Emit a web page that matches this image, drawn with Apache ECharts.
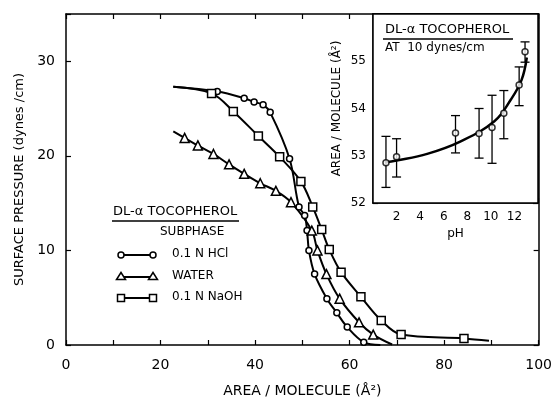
<!DOCTYPE html>
<html>
<head>
<meta charset="utf-8">
<script src="https://cdn.jsdelivr.net/npm/echarts@6/dist/echarts.min.js"></script>
<style>html,body{margin:0;padding:0;background:#fff}#c{width:555px;height:403px}</style>
</head>
<body>
<div id="c"></div>
<script>
// ---- main plot data (area/molecule Å², surface pressure dynes/cm)
const hclStart = [22.7, 27.3];
const hclEnd = [66.5, 0.0];
const hclPoints = [[32,26.8],[37.7,26.1],[39.8,25.7],[41.7,25.4],[43.2,24.6],[47.3,19.7],[49.3,14.6],[50.5,13.7],[51,12.1],[51.4,10.0],[52.6,7.5],[55.2,4.9],[57.3,3.4],[59.5,1.9],[63,0.3]];
const waterStart = [22.7, 22.6];
const waterEnd = [69, 0.05];
const waterPoints = [[25.1,21.9],[27.9,21.1],[31.2,20.2],[34.5,19.1],[37.7,18.1],[41.1,17.1],[44.4,16.3],[47.6,15.1],[52,12.1],[53.2,10.0],[55.1,7.5],[57.9,4.9],[62,2.4],[65,1.1]];
const naohStart = [22.7, 27.3];
const naohEnd = [89.5, 0.45];
const naohPoints = [[30.8,26.6],[35.4,24.7],[40.7,22.1],[45.2,19.9],[49.7,17.3],[52.2,14.6],[54.1,12.2],[55.7,10.1],[58.2,7.7],[62.4,5.1],[66.7,2.6],[70.9,1.1],[84.2,0.7]];
const mainXTicks = [0, 20, 40, 60, 80, 100];
const mainYTicks = [0, 10, 20, 30];

// ---- inset data (pH vs area/molecule at 10 dynes/cm)
const phVals = [1.1, 2, 7, 9, 10.1, 11.1, 12.4, 12.9];
const areaVals = [52.85, 52.98, 53.48, 53.47, 53.6, 53.9, 54.5, 55.2];
const errLow = [52.33, 52.55, 53.06, 52.95, 52.84, 53.36, 54.06, 54.98];
const errHigh = [53.41, 53.36, 53.85, 54.0, 54.28, 54.38, 54.88, 55.41];
const fitX = [1.0, 2, 4.6, 7.4, 10.3, 11.7, 12.6, 13.05];
const fitY = [52.86, 52.9, 53.04, 53.3, 53.73, 54.19, 54.6, 55.08];
const insetXTicks = [2, 4, 6, 8, 10, 12];
const insetYTicks = [52, 53, 54, 55];

const FONT = 'DejaVu Sans';
const chart = echarts.init(document.getElementById('c'), null, {renderer: 'canvas'});

function curveData(start, pts, end) {
  const d = [{value: start, symbol: 'none'}];
  pts.forEach(p => d.push({value: p}));
  d.push({value: end, symbol: 'none'});
  return d;
}
const markStyle = {color: '#fff', borderColor: '#000', borderWidth: 1.5};
function lineSeries(start, pts, end, sym, size) {
  return {
    type: 'line', xAxisIndex: 0, yAxisIndex: 0, smooth: 0.35,
    data: curveData(start, pts, end), symbol: sym, symbolSize: size,
    showAllSymbol: true,
    lineStyle: {color: '#000', width: 2}, itemStyle: markStyle,
    emphasis: {disabled: true}, z: 3
  };
}

const axText = {color: '#000', fontFamily: FONT};
function axisBase() {
  return {
    axisLine: {show: true, onZero: false, lineStyle: {color: '#000', width: 1.5}},
    axisTick: {show: true, inside: true, length: 5, lineStyle: {color: '#000', width: 1.2}},
    splitLine: {show: false}
  };
}

const option = {
  animation: false,
  backgroundColor: '#fff',
  grid: [
    {left: 66, right: 16, top: 14, bottom: 53},
    {left: 373, right: 17, top: 14, bottom: 200, show: true, backgroundColor: '#fff', borderColor: '#000', borderWidth: 1.5, z: 5}
  ],
  xAxis: [
    Object.assign(axisBase(), {type: 'value', gridIndex: 0, min: 0, max: 100, interval: 10,
      axisLabel: Object.assign({}, axText, {fontSize: 14, margin: 13,
        formatter: v => mainXTicks.includes(v) ? String(v) : ''}),
      name: 'AREA / MOLECULE (Å²)', nameLocation: 'middle', nameGap: 39,
      nameTextStyle: Object.assign({}, axText, {fontSize: 14})}),
    Object.assign(axisBase(), {type: 'value', gridIndex: 0, min: 0, max: 100, interval: 10, position: 'top',
      axisLabel: {show: false}}),
    Object.assign(axisBase(), {type: 'value', gridIndex: 1, min: 0, max: 14, interval: 2,
      axisLabel: Object.assign({}, axText, {fontSize: 12, margin: 8,
        formatter: v => insetXTicks.includes(v) ? String(v) : ''}),
      name: 'pH', nameLocation: 'middle', nameGap: 25,
      nameTextStyle: Object.assign({}, axText, {fontSize: 12})}),
    Object.assign(axisBase(), {type: 'value', gridIndex: 1, min: 0, max: 14, interval: 2, position: 'top',
      axisLabel: {show: false}})
  ],
  yAxis: [
    Object.assign(axisBase(), {type: 'value', gridIndex: 0, min: 0, max: 35, interval: 10,
      axisLabel: Object.assign({}, axText, {fontSize: 14, margin: 11,
        formatter: v => mainYTicks.includes(v) ? String(v) : ''}),
      name: 'SURFACE PRESSURE (dynes /cm)', nameLocation: 'middle', nameGap: 38,
      nameTextStyle: Object.assign({}, axText, {fontSize: 13})}),
    Object.assign(axisBase(), {type: 'value', gridIndex: 0, min: 0, max: 35, interval: 10, position: 'right',
      axisLabel: {show: false}}),
    Object.assign(axisBase(), {type: 'value', gridIndex: 1, min: 52, max: 56, interval: 1,
      axisLabel: Object.assign({}, axText, {fontSize: 12, margin: 7,
        formatter: v => insetYTicks.includes(v) ? String(v) : ''}),
      name: 'AREA / MOLECULE (Å²)', nameLocation: 'middle', nameGap: 30,
      nameTextStyle: Object.assign({}, axText, {fontSize: 12})}),
    Object.assign(axisBase(), {type: 'value', gridIndex: 1, min: 52, max: 56, interval: 1, position: 'right',
      axisLabel: {show: false}})
  ],
  series: [
    lineSeries(hclStart, hclPoints, hclEnd, 'circle', 6),
    lineSeries(waterStart, waterPoints, waterEnd, 'triangle', 9),
    lineSeries(naohStart, naohPoints, naohEnd, 'rect', 8),
    {
      type: 'line', xAxisIndex: 2, yAxisIndex: 2, smooth: 0.4, symbol: 'none',
      data: fitX.map((x, i) => [x, fitY[i]]),
      lineStyle: {color: '#000', width: 2.5}, z: 6, emphasis: {disabled: true}
    },
    {
      type: 'custom', xAxisIndex: 2, yAxisIndex: 2, z: 7,
      data: phVals.map((x, i) => [x, errLow[i], errHigh[i]]),
      renderItem: function (params, api) {
        const x = api.value(0);
        const lo = api.coord([x, api.value(1)]);
        const hi = api.coord([x, api.value(2)]);
        const h = 4.5;
        const st = {stroke: '#000', lineWidth: 1.3};
        return {type: 'group', children: [
          {type: 'line', shape: {x1: lo[0], y1: lo[1], x2: hi[0], y2: hi[1]}, style: st},
          {type: 'line', shape: {x1: lo[0] - h, y1: lo[1], x2: lo[0] + h, y2: lo[1]}, style: st},
          {type: 'line', shape: {x1: hi[0] - h, y1: hi[1], x2: hi[0] + h, y2: hi[1]}, style: st}
        ]};
      }
    },
    {
      type: 'scatter', xAxisIndex: 2, yAxisIndex: 2, z: 8, symbol: 'circle', symbolSize: 6,
      data: phVals.map((x, i) => [x, areaVals[i]]),
      itemStyle: markStyle, emphasis: {disabled: true}
    }
  ],
  graphic: [
    // legend block
    {type: 'text', left: 113, top: 205, z: 10, style: {text: 'DL-α TOCOPHEROL', fontSize: 13, fontFamily: FONT, fill: '#000'}},
    {type: 'line', z: 10, shape: {x1: 112, y1: 221, x2: 239, y2: 221}, style: {stroke: '#000', lineWidth: 1.3}},
    {type: 'text', left: 160, top: 226, z: 10, style: {text: 'SUBPHASE', fontSize: 12, fontFamily: FONT, fill: '#000'}},
    {type: 'line', z: 10, shape: {x1: 121, y1: 255, x2: 153, y2: 255}, style: {stroke: '#000', lineWidth: 2}},
    {type: 'circle', z: 11, shape: {cx: 121, cy: 255, r: 3}, style: {fill: '#fff', stroke: '#000', lineWidth: 1.5}},
    {type: 'circle', z: 11, shape: {cx: 153, cy: 255, r: 3}, style: {fill: '#fff', stroke: '#000', lineWidth: 1.5}},
    {type: 'text', left: 172, top: 248, z: 10, style: {text: '0.1 N HCl', fontSize: 12, fontFamily: FONT, fill: '#000'}},
    {type: 'line', z: 10, shape: {x1: 121, y1: 277, x2: 153, y2: 277}, style: {stroke: '#000', lineWidth: 2}},
    {type: 'polygon', z: 11, shape: {points: [[121, 272.5], [116.5, 279.5], [125.5, 279.5]]}, style: {fill: '#fff', stroke: '#000', lineWidth: 1.5}},
    {type: 'polygon', z: 11, shape: {points: [[153, 272.5], [148.5, 279.5], [157.5, 279.5]]}, style: {fill: '#fff', stroke: '#000', lineWidth: 1.5}},
    {type: 'text', left: 172, top: 270, z: 10, style: {text: 'WATER', fontSize: 12, fontFamily: FONT, fill: '#000'}},
    {type: 'line', z: 10, shape: {x1: 121, y1: 298, x2: 153, y2: 298}, style: {stroke: '#000', lineWidth: 2}},
    {type: 'rect', z: 11, shape: {x: 117.5, y: 294.5, width: 7, height: 7}, style: {fill: '#fff', stroke: '#000', lineWidth: 1.5}},
    {type: 'rect', z: 11, shape: {x: 149.5, y: 294.5, width: 7, height: 7}, style: {fill: '#fff', stroke: '#000', lineWidth: 1.5}},
    {type: 'text', left: 172, top: 291, z: 10, style: {text: '0.1 N NaOH', fontSize: 12, fontFamily: FONT, fill: '#000'}},
    // inset title
    {type: 'text', left: 385, top: 23, z: 20, style: {text: 'DL-α TOCOPHEROL', fontSize: 13, fontFamily: FONT, fill: '#000'}},
    {type: 'line', z: 20, shape: {x1: 383, y1: 39, x2: 513, y2: 39}, style: {stroke: '#000', lineWidth: 1.3}},
    {type: 'text', left: 385, top: 42, z: 20, style: {text: 'AT  10 dynes/cm', fontSize: 12, fontFamily: FONT, fill: '#000'}}
  ]
};
chart.setOption(option);
</script>
</body>
</html>
